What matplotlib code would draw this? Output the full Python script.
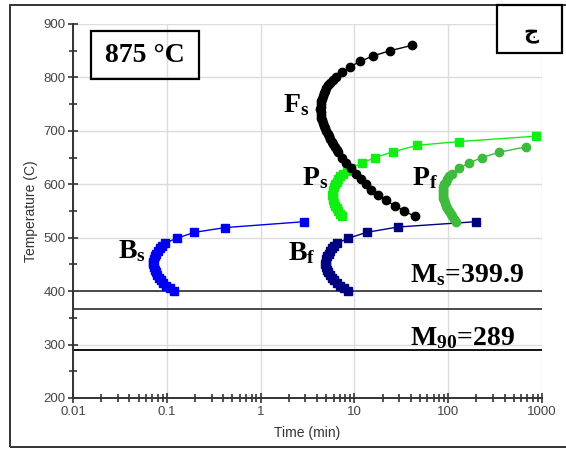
import matplotlib
matplotlib.use("Agg")
import matplotlib.pyplot as plt
from matplotlib.patches import Rectangle
from matplotlib.ticker import LogLocator, FixedLocator, NullFormatter

plt.rcParams['mathtext.fontset'] = 'custom'
plt.rcParams['mathtext.rm'] = 'Liberation Serif'
plt.rcParams['mathtext.bf'] = 'Liberation Serif:bold'

# bainite start (temperature C, time min)
bs_temp = [530, 519, 510, 499, 490, 485, 480, 475, 470, 465, 460, 455, 450, 445,
           440, 435, 430, 425, 420, 415, 410, 405, 400]
bs_time = [2.92, 0.42, 0.196, 0.128, 0.096, 0.089, 0.084, 0.080, 0.077, 0.075, 0.073,
           0.072, 0.072, 0.073, 0.074, 0.076, 0.079, 0.082, 0.086, 0.091, 0.098, 0.107, 0.118]

# bainite finish
bf_temp = [530, 520, 510, 499, 490, 485, 480, 475, 470, 465, 460, 455, 450, 445,
           440, 435, 430, 425, 420, 415, 410, 405, 400]
bf_time = [198, 29, 13.5, 8.6, 6.6, 6.1, 5.75, 5.5, 5.3, 5.15, 5.0, 4.95, 4.9, 4.95,
           5.05, 5.25, 5.5, 5.8, 6.1, 6.5, 7.0, 7.7, 8.5]

# ferrite start
fs_temp = [860, 850, 840, 830, 820, 810, 800, 795, 790, 785, 780, 775, 770, 765, 760,
           755, 750, 745, 740, 735, 730, 725, 720, 715, 710, 705, 700, 695, 690, 685,
           680, 675, 670, 665, 660, 650, 640, 630, 620, 610, 600, 590, 580, 570, 560,
           550, 540]
fs_time = [41, 24, 15.7, 11.5, 9.0, 7.4, 6.3, 5.9, 5.5, 5.25, 5.0, 4.85, 4.7, 4.6, 4.5,
           4.45, 4.4, 4.37, 4.35, 4.37, 4.4, 4.45, 4.5, 4.6, 4.7, 4.85, 5.0, 5.17, 5.35,
           5.55, 5.75, 5.97, 6.2, 6.47, 6.75, 7.4, 8.2, 9.2, 10.4, 11.8, 13.3, 15.2,
           17.8, 21.5, 27, 34, 44]

# pearlite start
ps_temp = [690, 680, 673, 661, 650, 640, 630, 625, 620, 615, 610, 605, 600, 595, 590,
           585, 580, 575, 570, 565, 560, 555, 550, 545, 540]
ps_time = [860, 131, 47, 26, 16.6, 12.1, 9.2, 8.3, 7.6, 7.1, 6.75, 6.45, 6.2, 6.0, 5.9,
           5.85, 5.8, 5.85, 5.9, 6.05, 6.2, 6.45, 6.7, 7.05, 7.4]

# pearlite finish
pf_temp = [670, 660, 650, 640, 630, 620, 615, 610, 605, 600, 595, 590, 585, 580, 575,
           570, 565, 560, 555, 550, 545, 540, 535, 530]
pf_time = [675, 350, 228, 168, 131, 109, 102, 97, 94, 91, 89, 88, 87.5, 88, 89,
           90, 92.5, 95, 98, 102, 106, 110, 115, 120]

# martensite temperatures
ms_temp = 399.9
m50_temp = 366
m90_temp = 289

fig = plt.figure(figsize=(5.66, 4.5), dpi=100)
ax = fig.add_axes([73 / 566, 1 - 398 / 450, (542 - 73) / 566, (398 - 24) / 450])

ax.set_xscale('log')
ax.set_xlim(0.01, 1000)
ax.set_ylim(200, 900)

ax.grid(True, which='major', color='#dcdcdc', linewidth=1.0)
ax.set_axisbelow(True)

for s in ['top', 'right']:
    ax.spines[s].set_visible(False)
for s in ['left', 'bottom']:
    ax.spines[s].set_color('#333333')
    ax.spines[s].set_linewidth(1.4)

ax.yaxis.set_major_locator(FixedLocator(range(200, 901, 100)))
ax.yaxis.set_minor_locator(FixedLocator(range(250, 900, 100)))
ax.xaxis.set_major_locator(LogLocator(base=10))
ax.xaxis.set_minor_locator(LogLocator(base=10, subs=range(2, 10)))
ax.xaxis.set_minor_formatter(NullFormatter())
ax.set_xticks([0.01, 0.1, 1, 10, 100, 1000])
ax.set_xticklabels(['0.01', '0.1', '1', '10', '100', '1000'])

ax.tick_params(which='both', direction='inout', color='#333333', width=1.2,
               labelsize=9.5, labelcolor='#444444')
ax.tick_params(which='major', length=7)
ax.tick_params(which='minor', length=6)
ax.tick_params(axis='y', pad=2)
ax.tick_params(axis='x', pad=2)

for lab in ax.get_xticklabels() + ax.get_yticklabels():
    lab.set_family('Liberation Sans')

ax.set_xlabel('Time (min)', fontsize=10, family='Liberation Sans', color='#333333', labelpad=6)
ax.set_ylabel('Temperature (C)', fontsize=10, family='Liberation Sans', color='#333333', labelpad=4)

# martensite lines
ax.axhline(ms_temp, color='#4a4a4a', linewidth=1.4)
ax.axhline(m50_temp, color='#4a4a4a', linewidth=1.4)
ax.axhline(m90_temp, color='#111111', linewidth=1.4)

mk = 6
ax.plot(bs_time, bs_temp, color='#0000ee', lw=1, marker='s', ms=mk, mec='#0000ee')
ax.plot(bf_time, bf_temp, color='#000080', lw=1, marker='s', ms=mk, mec='#000080')
ax.plot(ps_time, ps_temp, color='#11ee11', lw=1, marker='s', ms=mk, mec='#11ee11')
ax.plot(pf_time, pf_temp, color='#3cbb3c', lw=1, marker='o', ms=mk, mec='#3cbb3c')
ax.plot(fs_time, fs_temp, color='black', lw=1, marker='o', ms=mk, mec='black')

lab_kw = dict(fontsize=20, family='Liberation Serif', fontweight='bold',
              ha='left', va='baseline', color='black')
ax.text(1.73, 735, r'$\mathbf{F_s}$', **lab_kw)
ax.text(2.76, 598, r'$\mathbf{P_s}$', **lab_kw)
ax.text(41, 598, r'$\mathbf{P_f}$', **lab_kw)
ax.text(0.030, 462, r'$\mathbf{B_s}$', **lab_kw)
ax.text(1.96, 458, r'$\mathbf{B_f}$', **lab_kw)
ax.text(39, 417, r'$\mathbf{M_s}$=399.9', **lab_kw)
ax.text(39, 299, r'$\mathbf{M_{90}}$=289', **lab_kw)

# outer frame
fig.patches.append(Rectangle((10 / 566, 3 / 450), 1.0, 442 / 450, transform=fig.transFigure,
                             fill=False, edgecolor='#333333', linewidth=1.4))

# condition box
fig.patches.append(Rectangle((91 / 566, 1 - 79 / 450), 108 / 566, 48 / 450,
                             transform=fig.transFigure, fill=False,
                             edgecolor='black', linewidth=1.6, zorder=5))
fig.text(145 / 566, 1 - 56 / 450, '875 °C', fontsize=20, family='Liberation Serif',
         fontweight='bold', ha='center', va='center')

fig.patches.append(Rectangle((497 / 566, 1 - 53 / 450), 65 / 566, 48 / 450,
                             transform=fig.transFigure, facecolor='white',
                             edgecolor='black', linewidth=1.6, zorder=5))
fig.text(531 / 566, 1 - 34 / 450, 'ج', fontsize=15, family='DejaVu Sans',
         fontweight='bold', ha='center', va='center', zorder=6)

fig.savefig('out.png', dpi=100)
